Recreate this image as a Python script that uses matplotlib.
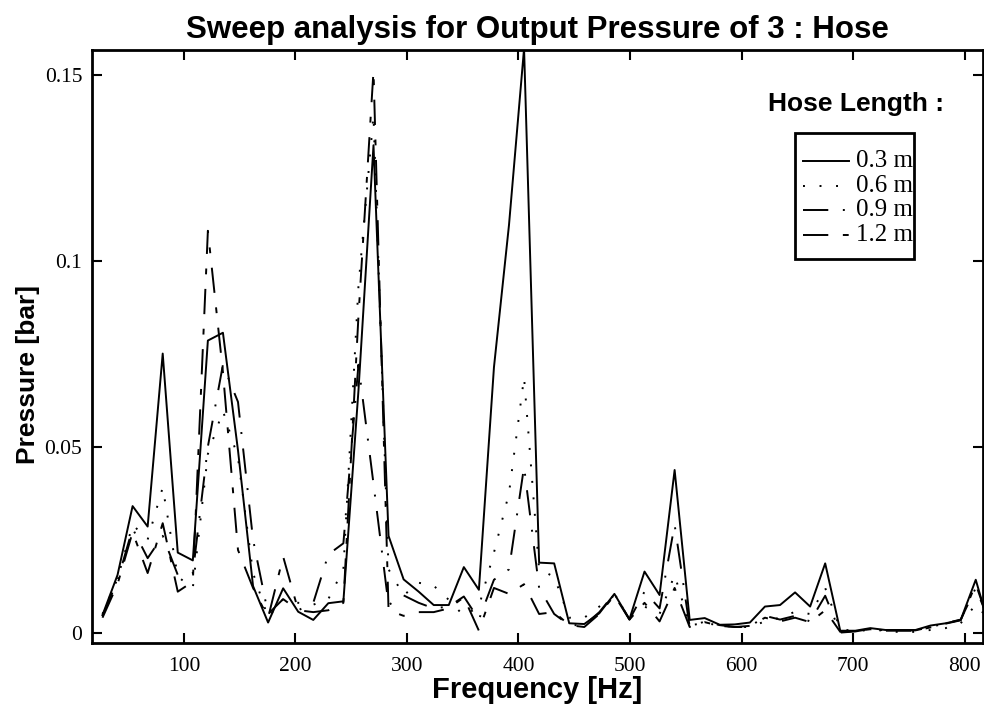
import numpy as np
import matplotlib
matplotlib.use('Agg')
import matplotlib.pyplot as plt
from matplotlib.lines import Line2D
from matplotlib.patches import Rectangle

# sweep frequencies [Hz]
freq = [27, 40.5, 54, 67.5, 81, 94.5, 108, 121.5, 135, 148.5,
        162, 175.5, 189, 202.5, 216, 229.5, 243, 256.5, 270, 283.5,
        297, 310.5, 324, 337.5, 351, 364.5, 378, 391.5, 405, 418.5,
        432, 445.5, 459, 472.5, 486, 499.5, 513, 526.5, 540, 553.5,
        567, 580.5, 594, 607.5, 621, 634.5, 648, 661.5, 675, 688.5,
        702, 715.5, 729, 742.5, 756, 769.5, 783, 796.5, 810, 823.5]

# output pressure [bar] for each hose length
p_03 = [0.0047, 0.0155, 0.034, 0.0285, 0.075, 0.0215, 0.0194, 0.0785, 0.0806, 0.049,
        0.0125, 0.0027, 0.0119, 0.0056, 0.0034, 0.0079, 0.0084, 0.065, 0.131, 0.026,
        0.0143, 0.011, 0.0074, 0.0074, 0.0176, 0.0115, 0.0713, 0.1096, 0.157, 0.0188,
        0.0186, 0.0025, 0.0023, 0.0052, 0.0104, 0.0036, 0.0164, 0.0101, 0.0437, 0.0034,
        0.0039, 0.0021, 0.0022, 0.0027, 0.0070, 0.0074, 0.0108, 0.0070, 0.0186, 0.0005,
        0.0005, 0.0012, 0.0007, 0.0007, 0.0007, 0.0019, 0.0025, 0.0034, 0.0142, 0.0002]
p_06 = [0.005, 0.0145, 0.029, 0.025, 0.039, 0.015, 0.012, 0.048, 0.0596, 0.047,
        0.016, 0.004, 0.009, 0.008, 0.0075, 0.009, 0.017, 0.093, 0.139, 0.017,
        0.010, 0.0134, 0.0126, 0.0088, 0.0045, 0.007, 0.0215, 0.0375, 0.0686, 0.017,
        0.015, 0.004, 0.004, 0.007, 0.010, 0.004, 0.007, 0.005, 0.0155, 0.002,
        0.0025, 0.002, 0.0015, 0.0015, 0.003, 0.004, 0.0056, 0.005, 0.012, 0.001,
        0.0003, 0.0008, 0.0005, 0.0001, 0.0002, 0.0007, 0.0012, 0.0025, 0.0075, 0.003]
p_09 = [0.0045, 0.014, 0.028, 0.020, 0.026, 0.0155, 0.016, 0.050, 0.072, 0.062,
        0.025, 0.005, 0.009, 0.006, 0.008, 0.021, 0.024, 0.072, 0.040, 0.0074,
        0.010, 0.008, 0.0065, 0.0070, 0.0097, 0.0035, 0.0142, 0.017, 0.0446, 0.012,
        0.005, 0.002, 0.002, 0.0055, 0.0105, 0.0035, 0.011, 0.0065, 0.029, 0.0015,
        0.003, 0.002, 0.0015, 0.0015, 0.0045, 0.0035, 0.0045, 0.003, 0.0099, 0.0,
        0.0003, 0.001, 0.0006, 0.0006, 0.0006, 0.0015, 0.0025, 0.0035, 0.012, 0.002]
p_12 = [0.004, 0.013, 0.027, 0.016, 0.0294, 0.011, 0.0137, 0.108, 0.070, 0.0222,
        0.012, 0.004, 0.0204, 0.006, 0.0055, 0.006, 0.008, 0.085, 0.151, 0.006,
        0.0045, 0.0055, 0.0055, 0.0065, 0.0095, 0.0005, 0.012, 0.0104, 0.013, 0.005,
        0.0055, 0.002, 0.0015, 0.005, 0.010, 0.0035, 0.008, 0.003, 0.012, 0.0015,
        0.0028, 0.0018, 0.0015, 0.0018, 0.004, 0.003, 0.004, 0.0028, 0.006, 0.0002,
        0.0004, 0.0009, 0.0005, 0.0005, 0.0005, 0.0014, 0.0024, 0.0033, 0.013, 0.0015]

labels = ['0.3 m', '0.6 m', '0.9 m', '1.2 m']
styles = ['-', (0, (1, 7.5)), (0, (13, 7.5, 1, 7.5)), (0, (13, 7.5, 3, 7.5))]
LW = 1.4

W, H = 984, 717
fig = plt.figure(figsize=(W / 100, H / 100), dpi=100)
# axes box in pixels: left 92, right 983, top 50, bottom 643
ax = fig.add_axes([92 / W, 1 - 643 / H, (983 - 92) / W, (643 - 50) / H])

for ys, lab, ls in zip([p_03, p_06, p_09, p_12], labels, styles):
    ax.plot(freq, ys, color='black', lw=LW, linestyle=ls, label=lab)

ax.set_xlim(17.6, 816.5)
ax.set_ylim(-0.0028, 0.1566)
ax.set_xticks([100, 200, 300, 400, 500, 600, 700, 800])
ax.set_yticks([0, 0.05, 0.1, 0.15])
ax.set_yticklabels(['0', '0.05', '0.1', '0.15'])

for s in ax.spines.values():
    s.set_linewidth(2)
ax.tick_params(direction='in', length=7, width=1.5, top=True, right=True,
               labelsize=15.5)
ax.tick_params(axis='x', pad=10)
ax.tick_params(axis='y', pad=7)
for t in ax.get_xticklabels() + ax.get_yticklabels():
    t.set_fontfamily('Liberation Serif')

fig.text(537 / W, 1 - 38 / H, 'Sweep analysis for Output Pressure of 3 : Hose',
         ha='center', va='baseline', fontsize=22.5, fontweight='bold',
         family='Liberation Sans')
fig.text(537 / W, 1 - 690 / H, 'Frequency [Hz]', ha='center', va='center',
         fontsize=21, fontweight='bold', family='Liberation Sans')
fig.text(28 / W, 1 - 375 / H, 'Pressure [bar]', ha='center', va='center',
         rotation=90, fontsize=19, fontweight='bold', family='Liberation Sans')

# legend, drawn by hand so the row spacing matches
fig.text(856 / W, 1 - 104 / H, 'Hose Length :', ha='center', va='center',
         fontsize=19, fontweight='bold', family='Liberation Sans')
fig.add_artist(Rectangle((795 / W, 1 - 259 / H), (914 - 795) / W, (259 - 133) / H,
                         transform=fig.transFigure, facecolor='white',
                         edgecolor='black', lw=2, zorder=5))
rows = [161, 186, 210, 235]
for yr, lab, ls in zip(rows, labels, styles):
    fig.add_artist(Line2D([803 / W, 849 / W], [1 - yr / H, 1 - yr / H],
                          transform=fig.transFigure, color='black', lw=LW,
                          linestyle=ls, zorder=6))
    fig.text(856 / W, 1 - yr / H, lab, ha='left', va='center', fontsize=18,
             family='Liberation Serif', zorder=7)

fig.savefig('out.png', dpi=100)
